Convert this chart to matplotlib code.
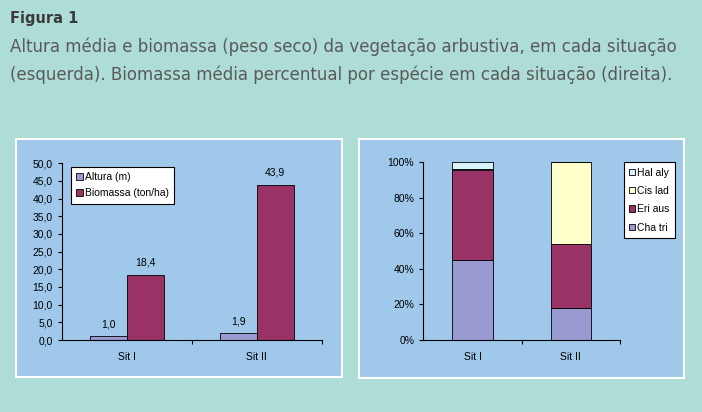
import matplotlib.pyplot as plt
import numpy as np
from matplotlib.patches import Rectangle, Patch
from matplotlib.ticker import FuncFormatter, FixedLocator

# left chart: mean height and biomass
situations = ['Sit I', 'Sit II']
altura = [1.0, 1.9]
biomassa = [18.4, 43.9]

# right chart: percentage biomass per species
species = ['Cha tri', 'Eri aus', 'Cis lad', 'Hal aly']
cha_tri = [45.0, 18.0]
eri_aus = [50.5, 36.0]
cis_lad = [1.0, 46.0]
hal_aly = [3.5, 0.0]

BG = '#AEDCD6'
PANEL = '#9FC8EB'
LAV = '#9A9AD2'
MAROON = '#993366'
CREAM = '#FFFFCC'
CYAN = '#D8F2FA'
TXT = '#5a5a5a'
FS = 7.5

W, H = 702, 412
fig = plt.figure(figsize=(W / 100, H / 100), dpi=100, facecolor=BG)


def fx(x):
    return x / W


def fy(y):
    return 1 - y / H


def panel(x0, y0, x1, y1):
    fig.patches.append(Rectangle((fx(x0), fy(y1)), fx(x1 - x0), (y1 - y0) / H,
                                 transform=fig.transFigure, facecolor=PANEL,
                                 edgecolor='white', linewidth=1.5, zorder=-10))


def axes_at(x0, y0, x1, y1):
    ax = fig.add_axes([fx(x0), fy(y1), fx(x1 - x0), (y1 - y0) / H])
    ax.set_facecolor('none')
    ax.set_zorder(5)
    for s in ['top', 'right']:
        ax.spines[s].set_visible(False)
    for s in ['left', 'bottom']:
        ax.spines[s].set_linewidth(0.8)
    ax.tick_params(labelsize=FS, length=3, width=0.8, colors='black')
    return ax


def style_x(ax):
    ax.set_xlim(-0.5, 1.5)
    ax.set_xticks(np.arange(len(situations)))
    ax.set_xticklabels(situations, fontsize=FS, family='Liberation Sans')
    ax.tick_params(axis='x', length=0, pad=9)
    ax.xaxis.set_minor_locator(FixedLocator([0.5, 1.5]))
    ax.tick_params(axis='x', which='minor', length=3, width=0.8)
    for lbl in ax.get_yticklabels():
        lbl.set_fontfamily('Liberation Sans')


# header text
fig.text(fx(10), fy(18), 'Figura 1', fontsize=10.5, fontweight='bold',
         color='#3a3a3a', family='DejaVu Sans', va='center', ha='left')
fig.text(fx(10), fy(47), 'Altura média e biomassa (peso seco) da vegetação arbustiva, em cada situação',
         fontsize=12, color=TXT, family='DejaVu Sans', va='center', ha='left')
fig.text(fx(10), fy(75), '(esquerda). Biomassa média percentual por espécie em cada situação (direita).',
         fontsize=12, color=TXT, family='DejaVu Sans', va='center', ha='left')

panel(16, 139, 342, 377)
panel(359, 139, 684, 378)

# ---- left chart ----
ax1 = axes_at(61.7, 163.3, 321.7, 340)
x = np.arange(len(situations))
bw = 0.285
b1 = ax1.bar(x - bw / 2, altura, bw, color=LAV, edgecolor='black', linewidth=0.6, label='Altura (m)')
b2 = ax1.bar(x + bw / 2, biomassa, bw, color=MAROON, edgecolor='black', linewidth=0.6, label='Biomassa (ton/ha)')
ax1.set_ylim(0, 50)
ax1.set_yticks(np.arange(0, 50.1, 5))
ax1.yaxis.set_major_formatter(FuncFormatter(lambda v, p: f'{v:.1f}'.replace('.', ',')))
style_x(ax1)
for bars, vals in [(b1, altura), (b2, biomassa)]:
    for r, v in zip(bars, vals):
        ax1.text(r.get_x() + r.get_width() / 2, v + 2.0, f'{v:.1f}'.replace('.', ','),
                 ha='center', va='bottom', fontsize=FS, family='Liberation Sans')
leg1 = ax1.legend(loc='upper left', bbox_to_anchor=(0.036, 0.979), borderaxespad=0,
                  prop={'family': 'Liberation Sans', 'size': FS},
                  handlelength=0.6, handleheight=0.6, handletextpad=0.2,
                  borderpad=0.5, labelspacing=0.6, fancybox=False, framealpha=1)
leg1.get_frame().set_edgecolor('black')
leg1.get_frame().set_linewidth(0.8)

# ---- right chart ----
ax2 = axes_at(423.3, 162.3, 620, 340)
bw2 = 0.41
bottom = np.zeros(len(situations))
colors = [LAV, MAROON, CREAM, CYAN]
handles = []
for name, vals, c in zip(species, [cha_tri, eri_aus, cis_lad, hal_aly], colors):
    ax2.bar(x, vals, bw2, bottom=bottom, color=c, edgecolor='black', linewidth=0.6)
    bottom += np.array(vals)
    handles.append(Patch(facecolor=c, edgecolor='black', linewidth=0.6, label=name))
ax2.set_ylim(0, 100)
ax2.set_yticks(np.arange(0, 101, 20))
ax2.yaxis.set_major_formatter(FuncFormatter(lambda v, p: f'{v:.0f}%'))
style_x(ax2)
leg2 = ax2.legend(handles=handles[::-1], loc='upper left', bbox_to_anchor=(1.02, 1.0),
                  borderaxespad=0, prop={'family': 'Liberation Sans', 'size': FS},
                  handlelength=0.6, handleheight=0.6, handletextpad=0.2,
                  borderpad=0.5, labelspacing=0.8, fancybox=False, framealpha=1)
leg2.get_frame().set_edgecolor('black')
leg2.get_frame().set_linewidth(0.8)

fig.savefig('out.png', dpi=100, facecolor=BG)
